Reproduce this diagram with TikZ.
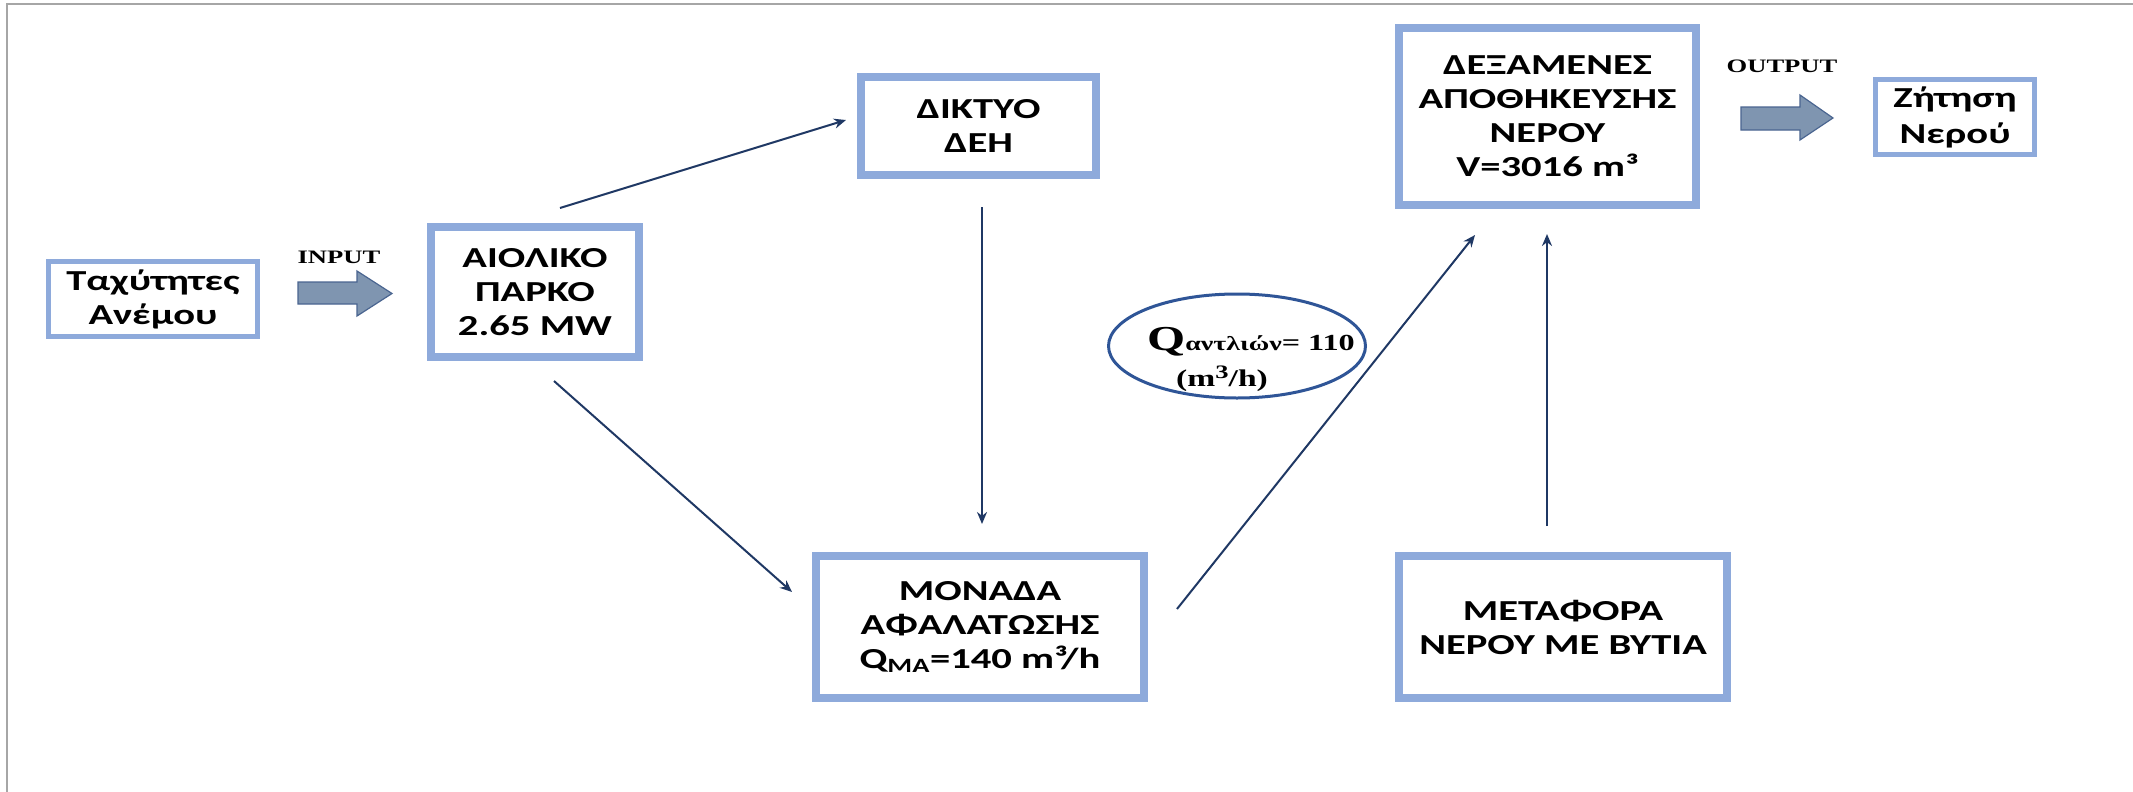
\documentclass[tikz,border=0pt]{standalone}
\usepackage{fontspec}
\newfontfamily\boxfont{Carlito}[FakeStretch=1.4]
\newfontfamily\serfont{Liberation Serif}[FakeStretch=1.4]
\usetikzlibrary{shapes.geometric,arrows.meta}
\definecolor{boxblue}{HTML}{8EAADB}
\definecolor{navy}{HTML}{1F3864}
\definecolor{ellblue}{HTML}{2F5597}
\definecolor{arrfill}{HTML}{7F95B0}
\definecolor{arredge}{HTML}{4A6590}
\definecolor{framegray}{HTML}{A6A6A6}
\begin{document}
\begin{tikzpicture}[x=1pt,y=-1pt,
  box/.style={draw=boxblue, line width=8pt, fill=white, align=center, inner sep=0pt,
    font={\boxfont\bfseries\fontsize{29}{34}\selectfont}},
  thinbox/.style={box, line width=5pt},
  conn/.style={draw=navy, line width=2pt, -{Stealth[length=12pt,width=10pt]}},
  blockarrow/.style={fill=arrfill, draw=arredge, line width=1.2pt},
  lbl/.style={inner sep=0pt, font={\serfont\bfseries\fontsize{19}{19}\selectfont}}]
\useasboundingbox (0,0) rectangle (2133,792);
\fill[white] (0,0) rectangle (2133,792);
\draw[framegray, line width=1.5pt] (7,792) -- (7,4) -- (2133,4);

\node[thinbox, minimum width=209pt, minimum height=75pt] (wind) at (153,299) {Ταχύτητες\\Ανέμου};
\node[box, minimum width=208pt, minimum height=130pt] (park) at (535,292) {ΑΙΟΛΙΚΟ\\ΠΑΡΚΟ\\2.65 MW};
\node[box, minimum width=235pt, minimum height=98pt] (dei) at (978.5,126) {ΔΙΚΤΥΟ\\ΔΕΗ};
\node[box, minimum width=328pt, minimum height=142pt] (desal) at (980,627) {ΜΟΝΑΔΑ\\ΑΦΑΛΑΤΩΣΗΣ\\Q\textsubscript{ΜΑ}=140 m³/h};
\node[box, minimum width=297pt, minimum height=177pt] (tank) at (1547.5,116.5) {ΔΕΞΑΜΕΝΕΣ\\ΑΠΟΘΗΚΕΥΣΗΣ\\ΝΕΡΟΥ\\V=3016 m³};
\node[thinbox, minimum width=159pt, minimum height=75pt, font={\boxfont\bfseries\fontsize{29}{36}\selectfont}] (demand) at (1955,117) {Ζήτηση\\Νερού};
\node[box, minimum width=328pt, minimum height=142pt] (truck) at (1563,627) {ΜΕΤΑΦΟΡΑ\\ΝΕΡΟΥ ΜΕ ΒΥΤΙΑ};

\node[ellipse, draw=ellblue, line width=3pt, minimum width=257pt, minimum height=104pt, inner sep=0pt] (pump) at (1237,346) {};
\node[inner sep=0pt, anchor=base west, font=\serfont\bfseries] (pumptxt) at (1147,350)
  {\fontsize{35}{35}\selectfont Q\fontsize{20}{20}\selectfont αντλιών\fontsize{23}{23}\selectfont= 110};
\node[inner sep=0pt, anchor=base west, font=\serfont\bfseries] (pumpunit) at (1176,386)
  {\fontsize{24}{24}\selectfont(m\raisebox{8pt}{\fontsize{19}{19}\selectfont 3}/h)};

\node[lbl] (input) at (339,257) {INPUT};
\node[lbl] (output) at (1782,66) {OUTPUT};

\draw[blockarrow] (298,282) -- (357,282) -- (357,271) -- (392,293.5) -- (357,316) -- (357,304) -- (298,304) -- cycle;
\draw[blockarrow] (1741,107) -- (1800,107) -- (1800,95) -- (1833,118) -- (1800,140) -- (1800,130) -- (1741,130) -- cycle;

\draw[conn] ([xshift=25pt,yshift=15pt]park.north) -- ([xshift=-11pt,yshift=6pt]dei.west);
\draw[conn] ([xshift=19pt,yshift=-20pt]park.south) -- ([xshift=-20pt,yshift=35pt]desal.west);
\draw[conn] ([xshift=3.5pt,yshift=-28pt]dei.south) -- ([xshift=2pt,yshift=28pt]desal.north);
\draw[conn] ([xshift=29pt,yshift=18pt]desal.east) -- ([xshift=-72.5pt,yshift=-26pt]tank.south);
\draw[conn] ([xshift=-16pt,yshift=26pt]truck.north) -- ([xshift=-0.5pt,yshift=-25pt]tank.south);
\end{tikzpicture}
\end{document}
